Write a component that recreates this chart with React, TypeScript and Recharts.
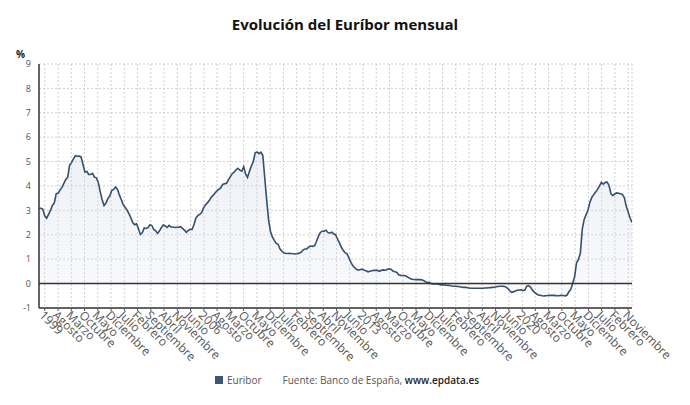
import React from 'react';
import { ComposedChart, Area, XAxis, YAxis, CartesianGrid, ReferenceLine } from 'recharts';

const EURIBOR_1999 = [3.091, 3.087, 3.048, 2.779, 2.682, 2.841, 2.997, 3.204, 3.306, 3.685, 3.704, 3.831];
const EURIBOR_2000 = [3.945, 4.107, 4.269, 4.362, 4.858, 4.958, 5.108, 5.245, 5.220, 5.224, 5.192, 4.879];
const EURIBOR_2001 = [4.575, 4.595, 4.471, 4.472, 4.520, 4.362, 4.334, 4.148, 3.772, 3.435, 3.196, 3.302];
const EURIBOR_2002 = [3.484, 3.586, 3.816, 3.859, 3.955, 3.869, 3.636, 3.445, 3.236, 3.129, 3.016, 2.871];
const EURIBOR_2003 = [2.705, 2.504, 2.411, 2.447, 2.252, 2.014, 2.081, 2.279, 2.258, 2.292, 2.409, 2.380];
const EURIBOR_2004 = [2.216, 2.163, 2.055, 2.163, 2.297, 2.404, 2.361, 2.299, 2.383, 2.320, 2.317, 2.301];
const EURIBOR_2005 = [2.312, 2.310, 2.335, 2.265, 2.193, 2.103, 2.168, 2.223, 2.219, 2.414, 2.684, 2.783];
const EURIBOR_2006 = [2.833, 2.914, 3.105, 3.221, 3.308, 3.401, 3.539, 3.615, 3.715, 3.799, 3.864, 3.921];
const EURIBOR_2007 = [4.064, 4.094, 4.106, 4.253, 4.373, 4.505, 4.564, 4.666, 4.725, 4.647, 4.607, 4.793];
const EURIBOR_2008 = [4.498, 4.349, 4.590, 4.820, 4.994, 5.361, 5.393, 5.323, 5.384, 5.248, 4.350, 3.452];
const EURIBOR_2009 = [2.622, 2.135, 1.909, 1.771, 1.644, 1.610, 1.412, 1.334, 1.261, 1.243, 1.231, 1.242];
const EURIBOR_2010 = [1.232, 1.225, 1.215, 1.225, 1.249, 1.281, 1.373, 1.421, 1.420, 1.495, 1.541, 1.526];
const EURIBOR_2011 = [1.550, 1.714, 1.924, 2.086, 2.147, 2.144, 2.183, 2.097, 2.067, 2.110, 2.044, 2.004];
const EURIBOR_2012 = [1.837, 1.678, 1.499, 1.368, 1.266, 1.219, 1.061, 0.877, 0.740, 0.650, 0.588, 0.549];
const EURIBOR_2013 = [0.575, 0.594, 0.545, 0.528, 0.484, 0.507, 0.525, 0.542, 0.543, 0.541, 0.506, 0.543];
const EURIBOR_2014 = [0.562, 0.549, 0.577, 0.604, 0.592, 0.513, 0.488, 0.469, 0.362, 0.338, 0.335, 0.329];
const EURIBOR_2015 = [0.298, 0.255, 0.212, 0.180, 0.165, 0.163, 0.167, 0.161, 0.154, 0.128, 0.079, 0.059];
const EURIBOR_2016 = [0.042, -0.008, -0.012, -0.010, -0.013, -0.028, -0.056, -0.048, -0.057, -0.069, -0.074, -0.080];
const EURIBOR_2017 = [-0.095, -0.106, -0.110, -0.119, -0.127, -0.149, -0.154, -0.156, -0.168, -0.180, -0.189, -0.190];
const EURIBOR_2018 = [-0.189, -0.191, -0.191, -0.190, -0.188, -0.181, -0.180, -0.169, -0.166, -0.154, -0.147, -0.129];
const EURIBOR_2019 = [-0.116, -0.108, -0.109, -0.112, -0.134, -0.190, -0.283, -0.356, -0.339, -0.304, -0.272, -0.261];
const EURIBOR_2020 = [-0.253, -0.288, -0.266, -0.108, -0.081, -0.147, -0.279, -0.359, -0.415, -0.466, -0.481, -0.497];
const EURIBOR_2021 = [-0.505, -0.501, -0.487, -0.484, -0.481, -0.484, -0.491, -0.498, -0.492, -0.477, -0.487, -0.502];
const EURIBOR_2022 = [-0.477, -0.335, -0.237, 0.013, 0.287, 0.852, 0.992, 1.249, 2.233, 2.629, 2.828, 3.018];
const EURIBOR_2023 = [3.337, 3.534, 3.647, 3.757, 3.862, 4.007, 4.149, 4.073, 4.149, 4.160, 4.022, 3.679];
const EURIBOR_2024 = [3.609, 3.671, 3.718, 3.703, 3.680, 3.650, 3.526, 3.166, 2.936, 2.691, 2.506];

const MONTHLY = [
  ...EURIBOR_1999, ...EURIBOR_2000, ...EURIBOR_2001, ...EURIBOR_2002, ...EURIBOR_2003,
  ...EURIBOR_2004, ...EURIBOR_2005, ...EURIBOR_2006, ...EURIBOR_2007, ...EURIBOR_2008,
  ...EURIBOR_2009, ...EURIBOR_2010, ...EURIBOR_2011, ...EURIBOR_2012, ...EURIBOR_2013,
  ...EURIBOR_2014, ...EURIBOR_2015, ...EURIBOR_2016, ...EURIBOR_2017, ...EURIBOR_2018,
  ...EURIBOR_2019, ...EURIBOR_2020, ...EURIBOR_2021, ...EURIBOR_2022, ...EURIBOR_2023,
  ...EURIBOR_2024,
];

const X_LABELS = [
  '1999', 'Agosto', 'Marzo', 'Octubre', 'Mayo', 'Diciembre', 'Julio', 'Febrero', 'Septiembre', 'Abril', 'Noviembre', 'Junio',
  '2006', 'Agosto', 'Marzo', 'Octubre', 'Mayo', 'Diciembre', 'Julio', 'Febrero', 'Septiembre', 'Abril', 'Noviembre', 'Junio',
  '2013', 'Agosto', 'Marzo', 'Octubre', 'Mayo', 'Diciembre', 'Julio', 'Febrero', 'Septiembre', 'Abril', 'Noviembre', 'Junio',
  '2020', 'Agosto', 'Marzo', 'Octubre', 'Mayo', 'Diciembre', 'Julio', 'Febrero', 'Noviembre',
];

const Y_TICKS = [-1, 0, 1, 2, 3, 4, 5, 6, 7, 8, 9];

const SERIES_NAME = 'Euribor';
const TITLE = 'Evolución del Euríbor mensual';

const data = MONTHLY.map((v, i) => ({ i, v }));
const LAST = MONTHLY.length - 1;
// evenly spaced label/grid positions along the month axis
const X_TICKS = X_LABELS.map((_, k) => 3 + (k * (LAST - 5)) / (X_LABELS.length - 1));

const FONT = '"Open Sans", "Noto Sans", sans-serif';

const XTick = (props: any) => {
  const { x, y, index } = props;
  const ax = x - 6;
  const ay = y + 3;
  return (
    <text
      x={ax}
      y={ay}
      transform={`rotate(45, ${ax}, ${ay})`}
      textAnchor="start"
      fontSize={12}
      fill="#555"
      fontFamily={FONT}
    >
      {X_LABELS[index]}
    </text>
  );
};

export default function App() {
  return (
    <div style={{ position: 'absolute', left: 0, top: 0, width: 690, height: 405, background: '#fff', fontFamily: FONT }}>
      <div
        style={{
          position: 'absolute', left: 0, top: 14, width: 690, textAlign: 'center',
          fontSize: 15, fontWeight: 700, color: '#111', lineHeight: '20px',
        }}
      >
        {TITLE}
      </div>
      <div style={{ position: 'absolute', left: 16, top: 47, fontSize: 10, fontWeight: 700, color: '#222' }}>%</div>
      <ComposedChart
        width={690}
        height={405}
        data={data}
        margin={{ top: 64, right: 58, bottom: 67, left: 0 }}
      >
        <defs>
          <linearGradient id="euriborFill" x1="0" y1="0" x2="0" y2="1">
            <stop offset="0%" stopColor="#c9d2e3" stopOpacity={0.55} />
            <stop offset="100%" stopColor="#dfe4ee" stopOpacity={0.35} />
          </linearGradient>
        </defs>
        <CartesianGrid stroke="#cfcfcf" strokeDasharray="2 2" />
        <XAxis
          dataKey="i"
          type="number"
          domain={[0, LAST]}
          ticks={X_TICKS}
          interval={0}
          height={30}
          tick={<XTick />}
          tickLine={{ stroke: '#555' }}
          tickSize={3}
          axisLine={{ stroke: '#333', strokeWidth: 1.5 }}
          allowDataOverflow
        />
        <YAxis
          type="number"
          domain={[-1, 9]}
          ticks={Y_TICKS}
          width={39}
          interval={0}
          tickLine={false}
          axisLine={{ stroke: '#333', strokeWidth: 1.5 }}
          tick={{ fontSize: 9, fill: '#555', fontFamily: FONT }}
        />
        <ReferenceLine y={0} stroke="#333" strokeWidth={1.5} />
        <Area
          type="linear"
          dataKey="v"
          name={SERIES_NAME}
          stroke="#35506b"
          strokeWidth={1.6}
          fill="url(#euriborFill)"
          dot={false}
          activeDot={false}
          isAnimationActive={false}
        />
      </ComposedChart>
      <div
        style={{
          position: 'absolute', left: 215, top: 373, fontSize: 10, color: '#555',
          display: 'flex', alignItems: 'center', whiteSpace: 'nowrap', lineHeight: '14px',
        }}
      >
        <span style={{ display: 'inline-block', width: 8, height: 8, background: '#3a5877', marginRight: 4 }} />
        <span>{SERIES_NAME}</span>
        <span style={{ marginLeft: 21 }}>
          Fuente: Banco de España, <span style={{ color: '#222', fontWeight: 600 }}>www.epdata.es</span>
        </span>
      </div>
    </div>
  );
}
